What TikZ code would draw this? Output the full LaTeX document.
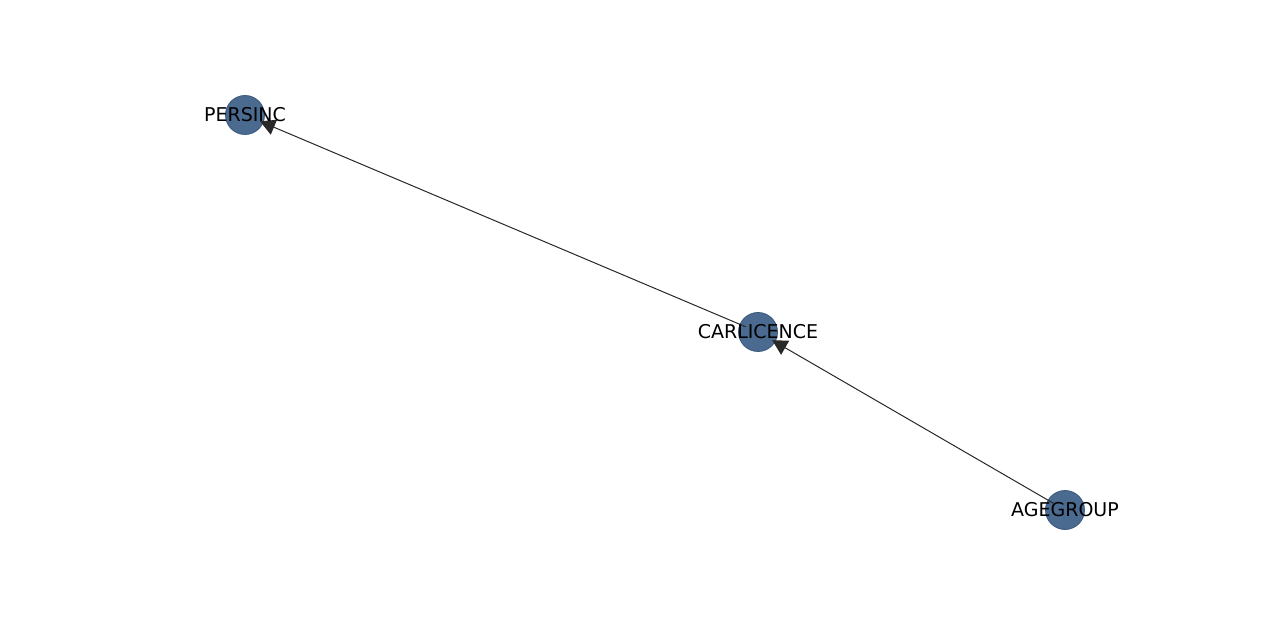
\documentclass[tikz,border=0pt]{standalone}
\usepackage{fontspec}
\setmainfont{DejaVu Sans}
\usetikzlibrary{arrows.meta}
\definecolor{nodefill}{RGB}{74,106,143}
\definecolor{nodeline}{RGB}{58,88,128}
\definecolor{edgecol}{RGB}{40,40,40}
\tikzset{
  vert/.style={circle, minimum size=39pt, inner sep=0pt, fill=nodefill, draw=nodeline, line width=0.8pt},
  lbl/.style={font=\fontsize{19}{22}\selectfont, text=black, inner sep=0pt},
  edge/.style={draw=edgecol, line width=1pt, shorten <=-6.5pt, shorten >=-3.5pt,
    -{Triangle[length=15pt,width=16pt]}}
}
\begin{document}
\begin{tikzpicture}[x=1pt,y=-1pt]
\useasboundingbox (0,0) rectangle (1280,620);
\node[vert] (p) at (245,115) {};
\node[vert] (c) at (758,332) {};
\node[vert] (a) at (1065,510) {};
\draw[edge] (c) -- (p);
\draw[edge] (a) -- (c);
\node[lbl] (pl) at (p) {PERSINC};
\node[lbl] (cl) at (c) {CARLICENCE};
\node[lbl] (al) at (a) {AGEGROUP};
\end{tikzpicture}
\end{document}
